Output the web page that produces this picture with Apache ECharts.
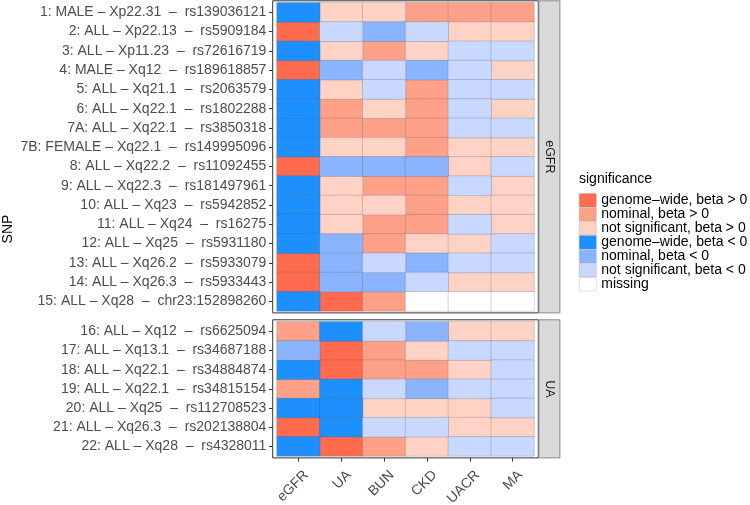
<!DOCTYPE html>
<html>
<head>
<meta charset="utf-8">
<script src="https://cdn.jsdelivr.net/npm/echarts@6/dist/echarts.min.js"></script>
<style>html,body{margin:0;padding:0;background:#fff;}#c{width:750px;height:505px;}</style>
</head>
<body>
<div id="c"></div>
<script>
const traits = ['eGFR', 'UA', 'BUN', 'CKD', 'UACR', 'MA'];
const snpsEGFR = [
  '1: MALE – Xp22.31  –  rs139036121',
  '2: ALL – Xp22.13  –  rs5909184',
  '3: ALL – Xp11.23  –  rs72616719',
  '4: MALE – Xq12  –  rs189618857',
  '5: ALL – Xq21.1  –  rs2063579',
  '6: ALL – Xq22.1  –  rs1802288',
  '7A: ALL – Xq22.1  –  rs3850318',
  '7B: FEMALE – Xq22.1  –  rs149995096',
  '8: ALL – Xq22.2  –  rs11092455',
  '9: ALL – Xq22.3  –  rs181497961',
  '10: ALL – Xq23  –  rs5942852',
  '11: ALL – Xq24  –  rs16275',
  '12: ALL – Xq25  –  rs5931180',
  '13: ALL – Xq26.2  –  rs5933079',
  '14: ALL – Xq26.3  –  rs5933443',
  '15: ALL – Xq28  –  chr23:152898260'
];
const snpsUA = [
  '16: ALL – Xq12  –  rs6625094',
  '17: ALL – Xq13.1  –  rs34687188',
  '18: ALL – Xq22.1  –  rs34884874',
  '19: ALL – Xq22.1  –  rs34815154',
  '20: ALL – Xq25  –  rs112708523',
  '21: ALL – Xq26.3  –  rs202138804',
  '22: ALL – Xq28  –  rs4328011'
];
const levels = [
  'genome–wide, beta > 0',
  'nominal, beta > 0',
  'not significant, beta > 0',
  'genome–wide, beta < 0',
  'nominal, beta < 0',
  'not significant, beta < 0',
  'missing'
];
const levelColors = ['#FF6B4E', '#FFA189', '#FFD2C6', '#1E8FFF', '#8BB4FF', '#C8D8FF', '#FFFFFF'];
// significance level index per SNP row, per trait column
const sigEGFR = [
  [3,2,2,1,1,1],
  [0,5,4,5,2,2],
  [3,2,1,2,5,5],
  [0,4,5,4,5,2],
  [3,2,5,1,5,5],
  [3,1,2,1,5,2],
  [3,1,1,1,5,5],
  [3,2,2,1,2,2],
  [0,4,4,4,2,5],
  [3,2,1,1,5,2],
  [3,2,2,1,2,2],
  [3,2,1,1,5,2],
  [3,4,1,2,2,5],
  [0,4,5,4,5,5],
  [0,4,4,5,2,2],
  [3,0,1,6,6,6]
];
const sigUA = [
  [1,3,5,4,2,2],
  [4,0,1,2,5,5],
  [3,0,1,1,2,5],
  [1,3,5,4,5,5],
  [3,3,2,2,2,5],
  [0,3,5,5,2,2],
  [3,0,1,2,5,5]
];
const facetNames = ['eGFR', 'UA'];

const FONT = '"Liberation Sans", Arial, Helvetica, sans-serif';
const chart = echarts.init(document.getElementById('c'), null, {renderer: 'canvas'});

// layout
const panelX = 272.7, panelW = 265.6;
const panels = [
  {y: 0.8, h: 312.1, rows: snpsEGFR, sig: sigEGFR},
  {y: 319.8, h: 138.1, rows: snpsUA, sig: sigUA}
];
const nCol = traits.length;

const grids = [], xAxes = [], yAxes = [], series = [], graphics = [];
panels.forEach((p, pi) => {
  const unitX = panelW / (nCol - 1 + 1.2);
  const unitY = p.h / (p.rows.length - 1 + 1.2);
  const dx = unitX * 0.1, dy = unitY * 0.1;
  grids.push({left: panelX + dx, top: p.y + dy, width: panelW - 2 * dx, height: p.h - 2 * dy,
    show: false, containLabel: false, outerBoundsMode: 'none'});
  xAxes.push({
    type: 'category', gridIndex: pi, data: traits, show: pi === panels.length - 1,
    position: 'bottom', offset: dy,
    axisLine: {show: false},
    axisTick: {show: true, length: 3.7, alignWithLabel: true, lineStyle: {color: '#333', width: 1}},
    axisLabel: {interval: 0, rotate: 45, margin: 7.3, align: 'right', verticalAlign: 'top',
      lineHeight: 14, padding: [4, 0, 0, 0],
      fontSize: 14, color: '#4D4D4D', fontFamily: FONT},
    splitLine: {show: false}
  });
  yAxes.push({
    type: 'category', gridIndex: pi, data: p.rows, inverse: true, position: 'left', offset: dx,
    axisLine: {show: false},
    axisTick: {show: true, length: 3.7, alignWithLabel: true, lineStyle: {color: '#333', width: 1}},
    axisLabel: {interval: 0, margin: 6.3, fontSize: 14, color: '#4D4D4D', fontFamily: FONT},
    splitLine: {show: false}
  });
  levels.forEach((lv, k) => {
    const data = [];
    p.sig.forEach((row, r) => row.forEach((v, c) => { if (v === k) data.push([c, r, k]); }));
    series.push({
      type: 'heatmap', name: lv, xAxisIndex: pi, yAxisIndex: pi, data: data,
      itemStyle: {color: levelColors[k], borderColor: 'rgba(80,80,80,0.33)', borderWidth: 0.7},
      emphasis: {disabled: true}, silent: true
    });
  });
  // panel border
  graphics.push({type: 'rect', shape: {x: panelX, y: p.y, width: panelW, height: p.h},
    style: {fill: 'none', stroke: '#333', lineWidth: 1}, z: 100, silent: true});
  // strip
  graphics.push({type: 'rect', shape: {x: panelX + panelW + 0.6, y: p.y, width: 21, height: p.h},
    style: {fill: '#D9D9D9', stroke: '#8A8A8A', lineWidth: 1}, z: 100, silent: true});
  graphics.push({type: 'text', x: panelX + panelW + 0.6 + 10.5, y: p.y + p.h / 2, rotation: -Math.PI / 2,
    style: {text: facetNames[pi], fill: '#1A1A1A', font: '12.5px ' + FONT, align: 'center', verticalAlign: 'middle'},
    z: 101, silent: true});
});
graphics.push({type: 'text', x: 8.5, y: 229, rotation: Math.PI / 2,
  style: {text: 'SNP', fill: '#000', font: '14px ' + FONT, align: 'center', verticalAlign: 'middle'}, silent: true});

chart.setOption({
  animation: false,
  textStyle: {fontFamily: FONT},
  title: {text: 'significance', left: 579, top: 172, padding: 0,
    textStyle: {fontSize: 14, fontWeight: 'normal', color: '#000', fontFamily: FONT}},
  legend: {
    orient: 'vertical', left: 579, top: 193.3, padding: 0, itemGap: 0, itemWidth: 17, itemHeight: 13.3,
    icon: 'rect', selectedMode: false, data: levels,
    itemStyle: {borderColor: 'rgba(80,80,80,0.3)', borderWidth: 0.6},
    textStyle: {fontSize: 14, color: '#000', lineHeight: 13.3, fontFamily: FONT}
  },
  grid: grids, xAxis: xAxes, yAxis: yAxes, series: series, graphic: graphics
});
</script>
</body>
</html>
